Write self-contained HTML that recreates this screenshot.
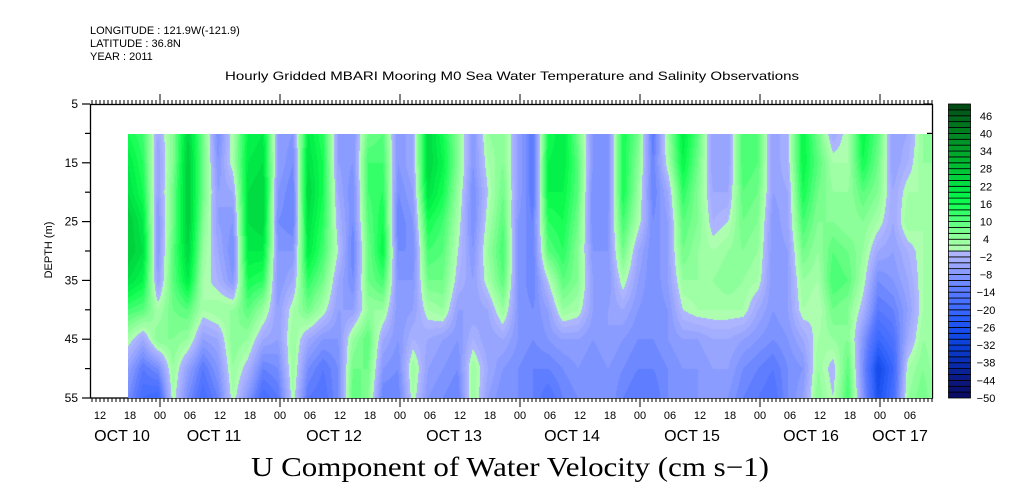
<!DOCTYPE html>
<html><head><meta charset="utf-8">
<style>
html,body{margin:0;padding:0;background:#fff;}
#wrap{position:relative;width:1009px;height:504px;overflow:hidden;background:#fff;}
svg{position:absolute;left:0;top:0;}
#heat{position:absolute;left:128px;top:134px;}
text{font-family:"Liberation Sans",sans-serif;fill:#000;}
</style></head>
<body>
<div id="wrap">
<svg id="svg" width="1009" height="504"></svg>
<canvas id="heat" width="804" height="264"></canvas>
</div>
<script>
// ---- data ----
const depths = [10,15,20,25,30,35,40,45,50,55];
const timeStepHours = 3;
const startHour = 17.6; // hours since Oct 10 00:00
const u00 = [16,20,22,26,26,22,12,2,-6,-10];
const u01 = [12,14,16,20,22,18,10,-4,-14,-18];
const u02 = [-4,-6,-6,-8,-8,-6,2,6,-10,-20];
const u03 = [6,6,8,8,10,10,8,6,4,2];
const u04 = [24,26,26,26,24,20,10,4,-6,-10];
const u05 = [8,8,8,6,4,2,2,-6,-14,-18];
const u06 = [-10,-8,-6,-6,-4,-2,4,-4,-8,-12];
const u07 = [2,2,-4,-8,-10,-8,4,6,4,2];
const u08 = [18,20,22,22,20,16,10,4,-2,-8];
const u09 = [20,22,24,24,20,14,4,-4,-12,-18];
const u10 = [-6,-6,-8,-10,-8,-8,-6,-6,-10,-14];
const u11 = [-8,-10,-12,-12,-8,-4,2,4,4,2];
const u12 = [20,22,24,22,20,14,8,-4,-10,-14];
const u13 = [14,16,16,14,12,8,2,-8,-14,-16];
const u14 = [-6,-6,-4,-2,0,-4,-6,-8,-10,-10];
const u15 = [-8,-8,-10,-10,-12,-10,-6,4,8,10];
const u16 = [8,12,12,10,8,8,4,10,8,6];
const u17 = [10,12,14,16,18,12,4,-4,-8,-12];
const u18 = [-8,-8,-10,-12,-10,-8,-8,-8,-10,-12];
const u19 = [-4,-4,-6,-8,-10,-8,-6,-2,4,2];
const u20 = [24,24,22,16,12,8,2,-4,-6,-8];
const u21 = [16,18,16,12,10,8,4,-6,-8,-10];
const u22 = [6,6,4,2,0,-2,-6,-8,-10,-12];
const u23 = [-8,-8,-10,-10,-8,-6,-6,-2,4,4];
const u24 = [4,2,0,2,4,2,-4,-6,-4,-6];
const u25 = [6,6,8,10,12,10,4,-4,-8,-10];
const u26 = [-6,-6,-6,-8,-8,-8,-8,-8,-10,-10];
const u27 = [-14,-14,-14,-12,-12,-12,-10,-10,-12,-12];
const u28 = [16,18,18,14,10,0,-6,-8,-12,-16];
const u29 = [20,20,18,16,14,10,4,-6,-10,-12];
const u30 = [8,10,10,8,6,6,2,-6,-8,-10];
const u31 = [-8,-8,-10,-10,-8,-6,-6,-8,-10,-8];
const u32 = [-10,-10,-10,-8,-8,-8,-6,-6,-8,-8];
const u33 = [16,16,16,12,8,2,-4,-8,-10,-12];
const u34 = [8,6,4,2,-4,-6,-8,-10,-12,-14];
const u35 = [-14,-12,-12,-10,-10,-10,-10,-10,-12,-14];
const u36 = [4,2,-4,-6,-6,-6,-8,-8,-10,-10];
const u37 = [20,18,14,10,8,4,0,-6,-8,-10];
const u38 = [10,8,6,6,4,4,2,-6,-8,-8];
const u39 = [-6,-6,-4,-2,2,4,2,-4,-6,-8];
const u40 = [-6,-6,-4,0,4,6,2,-4,-6,-8];
const u41 = [12,12,10,8,6,4,2,-6,-10,-12];
const u42 = [10,10,8,6,4,2,-4,-8,-12,-14];
const u43 = [-6,-6,-6,-8,-8,-8,-8,-10,-14,-16];
const u44 = [-2,-2,-4,-4,-6,-6,-6,-8,-10,-10];
const u45 = [18,18,16,12,8,4,2,-4,-8,-6];
const u46 = [8,10,8,6,4,2,0,2,4,6];
const u47 = [-4,2,4,6,10,12,8,4,-2,0];
const u48 = [2,2,4,4,8,10,6,6,10,12];
const u49 = [18,16,10,6,4,2,-2,-8,-10,-8];
const u50 = [10,8,6,2,-4,-10,-14,-20,-28,-26];
const u51 = [-6,-6,-4,-4,-6,-8,-12,-16,-20,-18];
const u52 = [-4,-2,2,4,-2,-4,-6,-4,2,4];
const u53 = [4,4,2,2,2,2,2,4,6,8];
const u54 = [6,4,4,4,4,4,2,2,2,2];
const profiles = [u00,u01,u02,u03,u04,u05,u06,u07,u08,u09,u10,u11,u12,u13,u14,u15,u16,u17,u18,u19,u20,u21,u22,u23,u24,u25,u26,u27,u28,u29,u30,u31,u32,u33,u34,u35,u36,u37,u38,u39,u40,u41,u42,u43,u44,u45,u46,u47,u48,u49,u50,u51,u52,u53,u54];
const depthTicks = [5,15,25,35,45,55];
const hourLabels = ["12","18","00","06","12","18","00","06","12","18","00","06","12","18","00","06","12","18","00","06","12","18","00","06","12","18","00","06"];
const dateLabels = ["OCT 10","OCT 11","OCT 12","OCT 13","OCT 14","OCT 15","OCT 16","OCT 17"];
const dateLabelHours = [16.4,34.8,58.8,82.8,106.4,130.4,154.2,172];
const levelLabels = [46,40,34,28,22,16,10,4,-2,-8,-14,-20,-26,-32,-38,-44,-50];

// ---- axes ----
const X0=40, PXH=5;
const xOf = h => X0 + h*PXH;
const yOf = d => 104 + (d-5)*(294/50);
const CB_TOP=104, CB_BOT=398;
const cbY = v => CB_BOT - (v+50)/100*(CB_BOT-CB_TOP);

const anchors=[[-50,[10,10,96]],[-44,[10,24,128]],[-38,[10,44,176]],[-32,[10,64,216]],[-26,[26,80,240]],[-20,[58,104,255]],[-14,[88,120,255]],[-8,[132,152,255]],[-2,[170,178,255]],[0,[178,184,255]],
[0.01,[180,255,180]],[4,[150,255,160]],[8,[112,255,136]],[12,[64,255,112]],[16,[16,255,80]],[20,[0,236,72]],[24,[0,214,64]],[30,[0,184,48]],[36,[0,152,40]],[42,[0,120,32]],[48,[0,88,24]],[50,[0,64,16]]];
function colorOf(v){
  let q=Math.floor(v/2)*2+1; q=Math.max(-49,Math.min(49,q));
  for(let i=0;i<anchors.length-1;i++){const a=anchors[i],b=anchors[i+1];
    if(q>=a[0]&&q<=b[0]){const t=(q-a[0])/(b[0]-a[0]);return a[1].map((c,k)=>Math.round(c+(b[1][k]-c)*t));}}
  return q<0?anchors[0][1]:anchors[anchors.length-1][1];
}

const svg=document.getElementById('svg');
const NS='http://www.w3.org/2000/svg';
function mk(tag,attrs,parent){const e=document.createElementNS(NS,tag);for(const k in attrs)e.setAttribute(k,attrs[k]);(parent||svg).appendChild(e);return e;}
function txt(s,x,y,size,anchor,name,extra){const e=mk('text',Object.assign({x:x,y:y,'font-size':size,'text-anchor':anchor||'start'},extra||{}));e.textContent=s;


return e;}

txt("LONGITUDE : 121.9W(-121.9)",90,34,11,'start','longitude-label');
txt("LATITUDE : 36.8N",90,47,11,'start','latitude-label');
txt("YEAR : 2011",90,60,11,'start','year-label');
txt("Hourly Gridded MBARI Mooring M0 Sea Water Temperature and Salinity Observations",512,80,12,'middle','plot-title',{textLength:574,lengthAdjust:'spacingAndGlyphs'});

// heatmap
const cv=document.getElementById('heat');const ctx=cv.getContext('2d');
const img=ctx.createImageData(cv.width,cv.height);
const nT=profiles.length;
for(let px=0;px<cv.width;px++){
  const h=(128+px+0.5-X0)/PXH;
  let c=(h-startHour)/timeStepHours; c=Math.max(0,Math.min(nT-1.0001,c));
  const i0=Math.floor(c),tf=c-i0;
  for(let py=0;py<cv.height;py++){
    const d=5+(134+py+0.5-104)/(294/50);
    let r=(d-depths[0])/(depths[1]-depths[0]); r=Math.max(0,Math.min(depths.length-1.0001,r));
    const j0=Math.floor(r),rf=r-j0;
    const a=profiles[i0],b=profiles[i0+1];
    const v=(a[j0]*(1-rf)+a[j0+1]*rf)*(1-tf)+(b[j0]*(1-rf)+b[j0+1]*rf)*tf;
    const col=colorOf(v);const k=(py*cv.width+px)*4;
    img.data[k]=col[0];img.data[k+1]=col[1];img.data[k+2]=col[2];img.data[k+3]=255;
  }
}
ctx.putImageData(img,0,0);

const fr=mk('rect',{x:90.5,y:104.5,width:842,height:293.5,fill:'none',stroke:'#000','stroke-width':1.3});



for(let d=5;d<=55;d+=5){
  const y=yOf(d);const major=(d%10===5);
  const t=mk('line',{x1:major?82:85,x2:90,y1:y,y2:y,stroke:'#000','stroke-width':1.2});
  
  
  const t2=mk('line',{x1:932,x2:major?924:927,y1:y,y2:y,stroke:'#000','stroke-width':1.2});
  
  
}
depthTicks.forEach(d=>txt(String(d),78,yOf(d)+4,12,'end','y-tick-label'));
txt("DEPTH (m)",52,250,11,'middle','y-axis-title',{transform:'rotate(-90 52 250)'});

for(let k=0;;k++){
  const h=k*0.8; const x=xOf(h); if(x>932.5)break; if(x<90)continue;
  const major=Math.abs(h%24)<0.01;
  const len=major?9:4;
  const tb=mk('line',{x1:x,x2:x,y1:398,y2:398+len,stroke:'#000','stroke-width':1});
  
  
  const tt=mk('line',{x1:x,x2:x,y1:104,y2:104-(major?10:4),stroke:'#000','stroke-width':1});
  
  
}
hourLabels.forEach((s,i)=>txt(s,xOf(12+6*i),419,11,'middle','x-hour-label'));
dateLabels.forEach((s,i)=>txt(s,xOf(dateLabelHours[i]),441,16,'middle','x-date-label'));

txt("U Component of Water Velocity (cm s\u22121)",510,476,27,'middle','variable-title',{style:'font-family:"Liberation Serif",serif',textLength:518,lengthAdjust:'spacingAndGlyphs'});

for(let v=-50;v<50;v+=2){
  const c=colorOf(v+1);
  const r=mk('rect',{x:948.5,y:cbY(v+2),width:22,height:cbY(v)-cbY(v+2),fill:`rgb(${c[0]},${c[1]},${c[2]})`,stroke:'#000','stroke-width':0.8});
  
  
}
levelLabels.forEach(v=>txt(v<0?"\u2212"+(-v):String(v),986,cbY(v)+4,11,'middle','colorbar-label'));
</script>
</body></html>
